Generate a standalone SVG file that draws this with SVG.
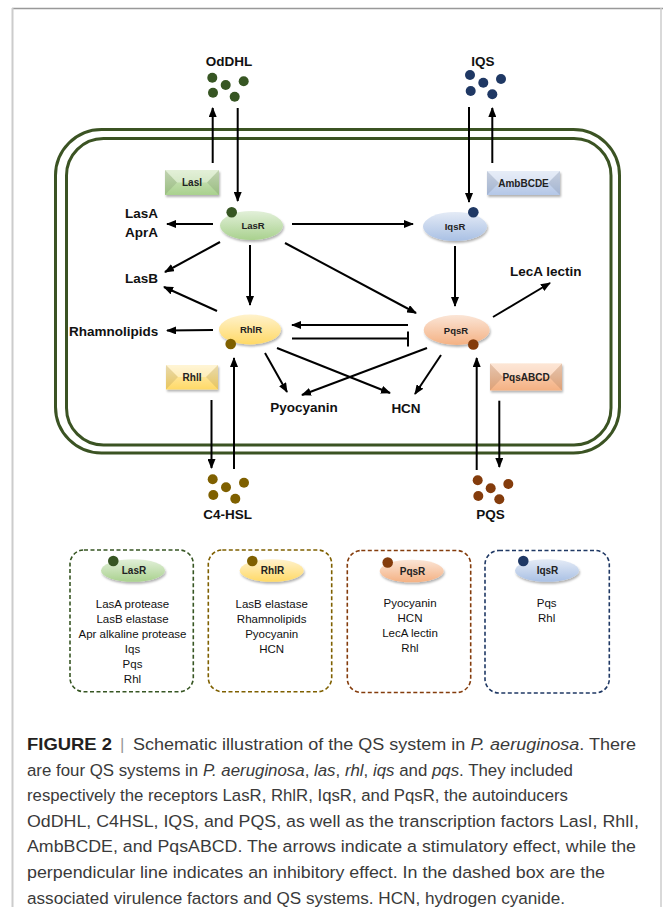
<svg xmlns="http://www.w3.org/2000/svg" width="663" height="907" viewBox="0 0 663 907">
<defs>
<style>
.lbl{font-family:"Liberation Sans",Arial,sans-serif;font-weight:bold;font-size:13.5px;fill:#111}
.mid{text-anchor:middle}
.nl{font-family:"Liberation Sans",Arial,sans-serif;font-weight:bold;font-size:9.5px;fill:#222;text-anchor:middle}
.bx{font-size:10px}
.bt{font-family:"Liberation Sans",Arial,sans-serif;font-size:11.5px;fill:#111;text-anchor:middle}
.cap{font-family:"Liberation Sans",Arial,sans-serif;font-size:16.9px;fill:#3a3a3a}
.conn line,.conn path{stroke:#000;stroke-width:2;fill:none}
.arr{marker-end:url(#ah)}
.mem{fill:none;stroke:#3b5323;stroke-width:3}
.dash{fill:none;stroke-width:1.6;stroke-dasharray:4 2.5}
.facetL{fill:#000;fill-opacity:0.09}
.facetT{fill:#fff;fill-opacity:0.35}
</style>
<marker id="ah" markerWidth="10" markerHeight="8" refX="9" refY="4" orient="auto" markerUnits="userSpaceOnUse">
<path d="M0,0 L10,4 L0,8 z" fill="#000"/>
</marker>
<filter id="sh" x="-20%" y="-30%" width="150%" height="170%">
<feDropShadow dx="1" dy="2" stdDeviation="1.2" flood-color="#000" flood-opacity="0.3"/>
</filter>
<linearGradient id="gG" x1="0" y1="0" x2="0" y2="1"><stop offset="0" stop-color="#e2f0d9"/><stop offset="1" stop-color="#a9d18e"/></linearGradient>
<linearGradient id="gY" x1="0" y1="0" x2="0" y2="1"><stop offset="0" stop-color="#fff2cc"/><stop offset="1" stop-color="#ffd966"/></linearGradient>
<linearGradient id="gB" x1="0" y1="0" x2="0" y2="1"><stop offset="0" stop-color="#e4ebf6"/><stop offset="1" stop-color="#a9c0e4"/></linearGradient>
<linearGradient id="gO" x1="0" y1="0" x2="0" y2="1"><stop offset="0" stop-color="#fbe5d6"/><stop offset="1" stop-color="#f4b183"/></linearGradient>
<linearGradient id="bG" x1="0" y1="0" x2="0" y2="1"><stop offset="0" stop-color="#d5e8c4"/><stop offset="1" stop-color="#a9d18e"/></linearGradient>
<linearGradient id="bY" x1="0" y1="0" x2="0" y2="1"><stop offset="0" stop-color="#fff0c0"/><stop offset="1" stop-color="#ffd966"/></linearGradient>
<linearGradient id="bB" x1="0" y1="0" x2="0" y2="1"><stop offset="0" stop-color="#dae3f3"/><stop offset="1" stop-color="#b4c7e7"/></linearGradient>
<linearGradient id="bO" x1="0" y1="0" x2="0" y2="1"><stop offset="0" stop-color="#fcd9c0"/><stop offset="1" stop-color="#f4b183"/></linearGradient>
</defs>
<rect width="663" height="907" fill="#fff"/>
<!-- frame -->
<line x1="12" y1="8.5" x2="663" y2="8.5" stroke="#999" stroke-width="1.5"/>
<line x1="12.5" y1="8" x2="12.5" y2="907" stroke="#ccc" stroke-width="2"/>
<line x1="661" y1="8" x2="661" y2="907" stroke="#ccc" stroke-width="1.5"/>

<!-- membrane -->
<g id="membrane">
<rect class="mem" x="55.5" y="129.5" width="564" height="323.5" rx="46"/>
<rect class="mem" x="66.5" y="138.5" width="544.5" height="306.5" rx="37"/>
</g>

<!-- connectors -->
<g id="connectors" class="conn">
<line class="arr" x1="212.7" y1="163" x2="212.7" y2="108"/>
<line class="arr" x1="237.7" y1="108" x2="237.7" y2="201"/>
<line class="arr" x1="469" y1="107" x2="469" y2="202"/>
<line class="arr" x1="492.3" y1="163" x2="492.3" y2="108"/>
<line class="arr" x1="213" y1="224" x2="167" y2="224"/>
<line class="arr" x1="292" y1="224" x2="413" y2="224"/>
<line class="arr" x1="220" y1="242" x2="165" y2="272"/>
<line class="arr" x1="217" y1="311" x2="164" y2="287"/>
<line class="arr" x1="250" y1="245" x2="250" y2="305"/>
<line class="arr" x1="285" y1="243" x2="416" y2="313"/>
<line class="arr" x1="455" y1="246" x2="455" y2="306"/>
<line class="arr" x1="493" y1="317" x2="550" y2="283"/>
<line class="arr" x1="408" y1="325" x2="292" y2="325"/>
<line x1="292" y1="338.5" x2="408" y2="338.5"/>
<line x1="408" y1="331.5" x2="408" y2="346.5"/>
<line class="arr" x1="213" y1="330" x2="167" y2="330.5"/>
<line class="arr" x1="265" y1="353" x2="287" y2="392"/>
<line class="arr" x1="277" y1="348" x2="390" y2="393"/>
<line class="arr" x1="427" y1="348" x2="302" y2="395"/>
<line class="arr" x1="441" y1="355" x2="415" y2="394"/>
<line class="arr" x1="211.5" y1="400" x2="211.5" y2="468"/>
<line class="arr" x1="234" y1="469" x2="234" y2="358"/>
<line class="arr" x1="476.7" y1="470" x2="476.7" y2="358"/>
<line class="arr" x1="499.3" y1="400.7" x2="499.3" y2="467"/>
</g>

<!-- autoinducers -->
<g id="OdDHL" fill="#375623">
<text class="lbl mid" x="229" y="66">OdDHL</text>
<circle cx="212.3" cy="77.7" r="5"/><circle cx="225.7" cy="85" r="5"/><circle cx="243.7" cy="81.3" r="5"/><circle cx="213" cy="92.7" r="5"/><circle cx="234.7" cy="96.7" r="5"/>
</g>
<g id="IQS" fill="#1f3864">
<text class="lbl mid" x="483" y="66">IQS</text>
<circle cx="470" cy="75" r="5"/><circle cx="483.3" cy="82.7" r="5"/><circle cx="501" cy="79" r="5"/><circle cx="470.7" cy="91" r="5"/><circle cx="492.3" cy="94.3" r="5"/>
</g>
<g id="C4-HSL" fill="#7f6000">
<circle cx="212.7" cy="479.3" r="5"/><circle cx="226" cy="487.3" r="5"/><circle cx="244" cy="482.7" r="5"/><circle cx="213.3" cy="495" r="5"/><circle cx="235.3" cy="498.7" r="5"/>
<text class="lbl mid" x="227.7" y="519">C4-HSL</text>
</g>
<g id="PQS" fill="#843c0c">
<circle cx="477.7" cy="480.3" r="5"/><circle cx="490.7" cy="488.3" r="5"/><circle cx="508.3" cy="484" r="5"/><circle cx="478.3" cy="496" r="5"/><circle cx="499.3" cy="499.3" r="5"/>
<text class="lbl mid" x="490.5" y="519">PQS</text>
</g>

<!-- synthases -->
<g id="LasI">
<rect x="165" y="170" width="54" height="25" fill="url(#bG)" filter="url(#sh)"/>
<polygon class="facetT" points="165,170 219,170 207,182.5 177,182.5"/>
<polygon class="facetL" points="165,170 177,182.5 165,195"/>
<polygon class="facetL" points="219,170 207,182.5 219,195"/>
<text class="nl bx" x="192" y="186">LasI</text>
</g>
<g id="AmbBCDE">
<rect x="487" y="171" width="73" height="24" fill="url(#bB)" filter="url(#sh)"/>
<polygon class="facetT" points="487,171 560,171 548,183 499,183"/>
<polygon class="facetL" points="487,171 499,183 487,195"/>
<polygon class="facetL" points="560,171 548,183 560,195"/>
<text class="nl bx" x="523.5" y="186.5">AmbBCDE</text>
</g>
<g id="RhlI">
<rect x="166" y="365" width="52" height="24.5" fill="url(#bY)" filter="url(#sh)"/>
<polygon class="facetT" points="166,365 218,365 206,377 178,377"/>
<polygon class="facetL" points="166,365 178,377 166,389.5"/>
<polygon class="facetL" points="218,365 206,377 218,389.5"/>
<text class="nl bx" x="192" y="380.5">RhlI</text>
</g>
<g id="PqsABCD">
<rect x="490" y="363.5" width="72" height="27" fill="url(#bO)" filter="url(#sh)"/>
<polygon class="facetT" points="490,363.5 562,363.5 549,377 503,377"/>
<polygon class="facetL" points="490,363.5 503,377 490,390.5"/>
<polygon class="facetL" points="562,363.5 549,377 562,390.5"/>
<text class="nl bx" x="526" y="380.5">PqsABCD</text>
</g>

<!-- receptors -->
<g id="LasR">
<ellipse cx="251.5" cy="225.5" rx="31.5" ry="14.5" fill="url(#gG)" filter="url(#sh)"/>
<circle cx="231.7" cy="212.3" r="5.3" fill="#375623"/>
<text class="nl" x="253" y="229">LasR</text>
</g>
<g id="IqsR">
<ellipse cx="455" cy="226.5" rx="32" ry="14.5" fill="url(#gB)" filter="url(#sh)"/>
<circle cx="473.3" cy="212.3" r="5.3" fill="#1f3864"/>
<text class="nl" x="455" y="230">IqsR</text>
</g>
<g id="RhlR">
<ellipse cx="250" cy="329.5" rx="31" ry="15" fill="url(#gY)" filter="url(#sh)"/>
<circle cx="230.7" cy="344" r="5.3" fill="#7f6000"/>
<text class="nl" x="251" y="333">RhlR</text>
</g>
<g id="PqsR">
<ellipse cx="456.7" cy="330" rx="33" ry="15" fill="url(#gO)" filter="url(#sh)"/>
<circle cx="473.3" cy="344.5" r="5.3" fill="#843c0c"/>
<text class="nl" x="456" y="333.5">PqsR</text>
</g>

<!-- products -->
<g id="LasA-AprA">
<text class="lbl" x="125" y="217.5">LasA</text>
<text class="lbl" x="125" y="237">AprA</text>
</g>
<g id="LasB"><text class="lbl" x="125" y="283">LasB</text></g>
<g id="Rhamnolipids"><text class="lbl" x="69" y="335.5">Rhamnolipids</text></g>
<g id="Pyocyanin"><text class="lbl mid" x="304" y="411.5">Pyocyanin</text></g>
<g id="HCN"><text class="lbl mid" x="406" y="413">HCN</text></g>
<g id="LecA"><text class="lbl" x="510" y="276">LecA lectin</text></g>

<!-- dashed boxes -->
<g id="box-las">
<rect class="dash" x="70" y="550" width="123.3" height="141.7" rx="14" stroke="#375623"/>
<ellipse cx="133" cy="570.5" rx="32" ry="11.3" fill="url(#gG)" filter="url(#sh)"/>
<circle cx="113.3" cy="561" r="5.3" fill="#375623"/>
<text class="nl bx" x="134" y="574">LasR</text>
<text class="bt" x="132.5" y="607.5">LasA protease</text>
<text class="bt" x="132.5" y="622.5">LasB elastase</text>
<text class="bt" x="132.5" y="637.5">Apr alkaline protease</text>
<text class="bt" x="132.5" y="652.5">Iqs</text>
<text class="bt" x="132.5" y="667.5">Pqs</text>
<text class="bt" x="132.5" y="682.5">Rhl</text>
</g>
<g id="box-rhl">
<rect class="dash" x="208.3" y="550" width="123.4" height="141.7" rx="14" stroke="#7f6000"/>
<ellipse cx="271.7" cy="570.5" rx="32" ry="11.3" fill="url(#gY)" filter="url(#sh)"/>
<circle cx="252.3" cy="561" r="5.3" fill="#7f6000"/>
<text class="nl bx" x="272.5" y="574">RhlR</text>
<text class="bt" x="271.7" y="607.5">LasB elastase</text>
<text class="bt" x="271.7" y="622.5">Rhamnolipids</text>
<text class="bt" x="271.7" y="637.5">Pyocyanin</text>
<text class="bt" x="271.7" y="652.5">HCN</text>
</g>
<g id="box-pqs">
<rect class="dash" x="347.3" y="550.5" width="123.4" height="142" rx="14" stroke="#843c0c"/>
<ellipse cx="411.7" cy="571" rx="32" ry="11.3" fill="url(#gO)" filter="url(#sh)"/>
<circle cx="387.7" cy="562.5" r="5.3" fill="#843c0c"/>
<text class="nl bx" x="412.5" y="574.5">PqsR</text>
<text class="bt" x="410" y="606.5">Pyocyanin</text>
<text class="bt" x="410" y="621.5">HCN</text>
<text class="bt" x="410" y="636.5">LecA lectin</text>
<text class="bt" x="410" y="651.5">Rhl</text>
</g>
<g id="box-iqs">
<rect class="dash" x="485" y="550.5" width="124.3" height="142.5" rx="14" stroke="#1f3864"/>
<ellipse cx="547" cy="570.5" rx="32" ry="11.3" fill="url(#gB)" filter="url(#sh)"/>
<circle cx="523.3" cy="561" r="5.3" fill="#1f3864"/>
<text class="nl bx" x="547.5" y="574">IqsR</text>
<text class="bt" x="546.7" y="606.5">Pqs</text>
<text class="bt" x="546.7" y="621.5">Rhl</text>
</g>

<!-- caption -->
<g id="caption" class="cap">
<text x="27" y="750" font-weight="bold" fill="#231f20" textLength="85" lengthAdjust="spacingAndGlyphs">FIGURE 2</text>
<text x="120" y="750" fill="#999">|</text>
<text x="133" y="750" textLength="503" lengthAdjust="spacingAndGlyphs">Schematic illustration of the QS system in <tspan font-style="italic">P. aeruginosa</tspan>. There</text>
<text x="27" y="775.6" textLength="546" lengthAdjust="spacingAndGlyphs">are four QS systems in <tspan font-style="italic">P. aeruginosa</tspan>, <tspan font-style="italic">las</tspan>, <tspan font-style="italic">rhl</tspan>, <tspan font-style="italic">iqs</tspan> and <tspan font-style="italic">pqs</tspan>. They included</text>
<text x="27" y="801.2" textLength="541" lengthAdjust="spacingAndGlyphs">respectively the receptors LasR, RhlR, IqsR, and PqsR, the autoinducers</text>
<text x="27" y="826.8" textLength="612" lengthAdjust="spacingAndGlyphs">OdDHL, C4HSL, IQS, and PQS, as well as the transcription factors LasI, RhlI,</text>
<text x="27" y="852.4" textLength="609" lengthAdjust="spacingAndGlyphs">AmbBCDE, and PqsABCD. The arrows indicate a stimulatory effect, while the</text>
<text x="27" y="878" textLength="578" lengthAdjust="spacingAndGlyphs">perpendicular line indicates an inhibitory effect. In the dashed box are the</text>
<text x="27" y="903.6" textLength="538" lengthAdjust="spacingAndGlyphs">associated virulence factors and QS systems. HCN, hydrogen cyanide.</text>
</g>
</svg>
